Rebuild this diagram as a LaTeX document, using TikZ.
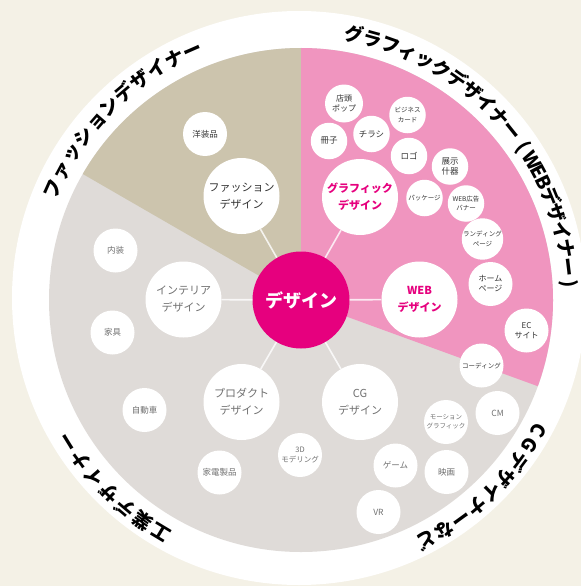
\documentclass[tikz,border=0pt]{standalone}
\usepackage{fontspec}
\setmainfont{Noto Sans CJK JP}
\usetikzlibrary{calc}
\definecolor{bg}{HTML}{F4F1E6}
\definecolor{tanc}{HTML}{CCC4AD}
\definecolor{pinkc}{HTML}{F095BF}
\definecolor{grayc}{HTML}{DFDBD8}
\definecolor{mag}{HTML}{E6007E}
\definecolor{txtd}{HTML}{333333}
\definecolor{txtg}{HTML}{707070}
\tikzset{
  bub/.style={circle, fill=white, inner sep=0pt, align=center},
  mainb/.style={bub, minimum size=76pt, font=\fontsize{11}{17}\selectfont},
  smb/.style={bub, minimum size=44pt, font=\fontsize{8.5}{11}\selectfont},
  pkb/.style={bub, minimum size=36.5pt, font=\fontsize{8.5}{10.5}\selectfont, text=txtd},
  xs/.style={font=\fontsize{6.5}{9.5}\selectfont},
  conn/.style={draw=white, line width=1.6pt, opacity=0.8},
  arcch/.style={font=\fontsize{19}{20}\selectfont\bfseries, text=black, inner sep=0pt, text height=0.8em, text depth=0.1em}
}
\begin{document}
\begin{tikzpicture}[x=1pt,y=1pt]
\useasboundingbox (0,0) rectangle (581,-586);
\clip (0,0) rectangle (581,-586);
\fill[bg] (0,0) rectangle (581,-586);
\coordinate (C) at (301,-300);
\fill[white] (299,-298) circle[radius=287];
\fill[grayc] (C) circle[radius=252];
\fill[tanc] (C) -- ++(90:252) arc[start angle=90,end angle=150,radius=252] -- cycle;
\fill[pinkc] (C) -- ++(-20:252) arc[start angle=-20,end angle=90,radius=252] -- cycle;

% centre
\node[circle, fill=mag, inner sep=0pt, minimum size=97pt, text=white, font=\fontsize{18}{18}\selectfont\bfseries] (core) at (301,-300) {デザイン};

% main nodes
\node[mainb, text=txtd] (fash) at (241.5,-196) {ファッション\\デザイン};
\node[mainb, text=mag, font=\fontsize{11}{17}\selectfont\bfseries] (graph) at (360,-197) {グラフィック\\デザイン};
\node[mainb, text=mag, font=\fontsize{11}{17}\selectfont\bfseries] (web) at (419.5,-299.5) {WEB\\デザイン};
\node[mainb, text=txtg] (inter) at (183.5,-299.5) {インテリア\\デザイン};
\node[mainb, text=txtg] (prod) at (241.5,-402) {プロダクト\\デザイン};
\node[mainb, text=txtg] (cg) at (360,-402) {CG\\デザイン};

\draw[conn] (core) -- (fash);
\draw[conn] (core) -- (graph);
\draw[conn] (core) -- (web);
\draw[conn] (core) -- (inter);
\draw[conn] (core) -- (prod);
\draw[conn] (core) -- (cg);

% fashion / gray sector small nodes
\node[smb, text=txtd] (yoso) at (205,-134) {洋装品};
\node[smb, text=txtg] (naiso) at (115.5,-250.5) {内装};
\node[smb, text=txtg] (kagu) at (112.5,-332.5) {家具};
\node[smb, text=txtg] (jido) at (144.5,-410) {自動車};
\node[smb, text=txtg] (kaden) at (219.5,-472.5) {家電製品};
\node[smb, text=txtg, font=\fontsize{7.5}{10}\selectfont] (model) at (300,-455) {3D\\モデリング};
\node[smb, text=txtg, xs] (motion) at (446,-422) {モーション\\グラフィック};
\node[smb, text=txtg] (cm) at (497.5,-413) {CM};
\node[smb, text=txtg] (game) at (395.5,-465.5) {ゲーム};
\node[smb, text=txtg] (eiga) at (446.5,-472) {映画};
\node[smb, text=txtg] (vr) at (378.5,-512) {VR};

% pink sector small nodes
\node[smb, text=txtd, xs] (coding) at (481.5,-365.5) {コーディング};
\node[smb, text=txtd, font=\fontsize{8}{10}\selectfont] (ec) at (526.5,-330.5) {EC\\サイト};
\node[smb, text=txtd, font=\fontsize{8}{10}\selectfont] (home) at (490.5,-284) {ホーム\\ページ};
\node[pkb, xs] (land) at (482.5,-239) {ランディング\\ページ};
\node[pkb, xs] (webad) at (466,-203.5) {WEB広告\\バナー};
\node[pkb, xs] (pkg) at (424.5,-198) {パッケージ};
\node[pkb] (tenji) at (450,-166.5) {展示\\什器};
\node[pkb] (logo) at (409,-156) {ロゴ};
\node[pkb, xs] (biz) at (407.5,-115) {ビジネス\\カード};
\node[pkb] (chira) at (371.5,-134) {チラシ};
\node[pkb, minimum size=38pt, font=\fontsize{8}{10}\selectfont] (pop) at (344,-103.5) {店頭\\ポップ};
\node[pkb] (sasshi) at (329,-141) {冊子};

% text round the ring
\coordinate (R) at (301,-299);
\foreach \a/\c [count=\i] in {156/フ,151.8/ァ,147.5/ッ,143.3/シ,139.0/ョ,134.8/ン,130.6/デ,126.3/ザ,122.1/イ,117.8/ナ,113.6/ー}
  \node[arcch, rotate=\a-90] (fa\i) at ($(R)+(\a:268)$) {\c};
\foreach \a/\c [count=\i] in {78.6/グ,74.6/ラ,70.6/フ,66.6/ィ,62.6/ッ,58.6/ク,54.6/デ,50.6/ザ,46.6/イ,42.6/ナ,38.6/ー,34.3/(,30.9/W,28.2/E,25.7/B,22.4/デ,18.5/ザ,14.6/イ,10.7/ナ,6.8/ー,3.2/)}
  \node[arcch, rotate=\a-90] (gr\i) at ($(R)+(\a:266)$) {\c};
\foreach \a/\c [count=\i] in {-29/C,-32.6/G,-36.8/デ,-41.1/ザ,-45.4/イ,-49.7/ナ,-54.0/ー,-58.3/な,-62.6/ど}
  \node[arcch, rotate=\a-90] (cgt\i) at ($(R)+(\a:268)$) {\c};
\foreach \a/\c [count=\i] in {239/工,234.4/業,229.9/デ,225.3/ザ,220.7/イ,216.2/ナ,211.6/ー}
  \node[arcch, rotate=\a-90] (ind\i) at ($(R)+(\a:269)$) {\c};
\end{tikzpicture}
\end{document}
